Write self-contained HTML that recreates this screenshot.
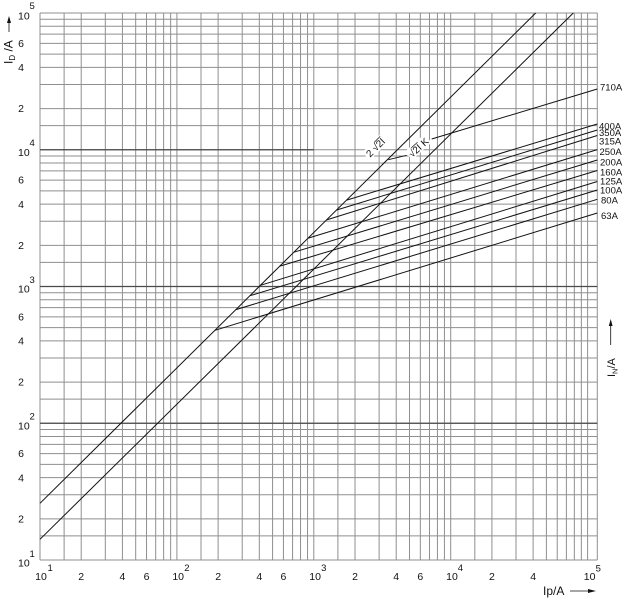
<!DOCTYPE html>
<html><head><meta charset="utf-8"><style>
html,body{margin:0;padding:0;background:#fff;}
svg{display:block;font-family:"Liberation Sans",sans-serif;}
</style></head><body>
<svg width="637" height="600" viewBox="0 0 637 600" xmlns="http://www.w3.org/2000/svg">
<rect width="637" height="600" fill="#fff"/>
<!-- vertical grid -->
<path fill="none" stroke="#8f8f8f" stroke-width="1" d="
M40 13V560 M64.11 13V560 M81.21 13V560 M105.32 13V560 M122.42 13V560 M135.69 13V560 M146.53 13V560 M155.69 13V560 M163.63 13V560 M170.64 13V560
M176.9 13V560 M201.01 13V560 M218.11 13V560 M242.22 13V560 M259.32 13V560 M272.59 13V560 M283.43 13V560 M292.59 13V560 M300.53 13V560 M307.54 13V560
M313.8 13V560 M337.91 13V560 M355.01 13V560 M379.12 13V560 M396.22 13V560 M409.49 13V560 M420.33 13V560 M429.49 13V560 M437.43 13V560 M444.44 13V560
M450.7 13V560 M474.81 13V560 M491.91 13V560 M516.02 13V560 M533.12 13V560 M546.39 13V560 M557.23 13V560 M566.39 13V560 M574.33 13V560 M581.34 13V560
M587.6 13V560 M597.3 13V560"/>
<!-- horizontal grid -->
<path fill="none" stroke="#8f8f8f" stroke-width="1" d="
M40 560H597.3 M40 535.92H597.3 M40 518.83H597.3 M40 494.75H597.3 M40 477.67H597.3 M40 464.42H597.3 M40 453.59H597.3 M40 444.43H597.3 M40 436.5H597.3 M40 429.51H597.3
M40 423.25H597.3 M40 399.17H597.3 M40 382.08H597.3 M40 358H597.3 M40 340.92H597.3 M40 327.67H597.3 M40 316.84H597.3 M40 307.68H597.3 M40 299.75H597.3 M40 292.76H597.3
M40 286.5H597.3 M40 262.42H597.3 M40 245.33H597.3 M40 221.25H597.3 M40 204.17H597.3 M40 190.92H597.3 M40 180.09H597.3 M40 170.93H597.3 M40 163H597.3 M40 156.01H597.3
M40 149.75H597.3 M40 125.67H597.3 M40 108.58H597.3 M40 84.5H597.3 M40 67.42H597.3 M40 54.17H597.3 M40 43.34H597.3 M40 34.18H597.3 M40 26.25H597.3 M40 19.26H597.3
M40 13H597.3"/>
<!-- darker decade lines -->
<path fill="none" stroke="#4a4a4a" stroke-width="1.2" d="M40 286.5H597.3 M40 423.25H597.3 M40 149.75H313.8"/>

<!-- label background boxes -->
<g transform="translate(375.5,147.5) rotate(-45)"><rect x="-13" y="-6" width="26" height="11" fill="#fff"/></g>
<g transform="translate(418.5,147.5) rotate(-42)"><rect x="-13" y="-6" width="26" height="11" fill="#fff"/></g>

<!-- diagonals -->
<g fill="none" stroke="#111" stroke-width="1">
<path d="M40 503.3L535.7 13"/>
<path d="M40 539.3L573.3 13"/>
<!-- fuse lines -->
<path d="M215 330.3L597.3 213"/>
<path d="M236 309.6L597.3 199.3"/>
<path d="M250 295.7L597.3 190"/>
<path d="M260.5 285.3L597.3 181.5"/>
<path d="M280 266.1L597.3 170.5"/>
<path d="M294 252.2L597.3 160"/>
<path d="M308.3 238.1L597.3 149.6"/>
<path d="M326.7 219.9L597.3 135.5"/>
<path d="M336.7 210L597.3 130"/>
<path d="M346.7 200.1L597.3 124"/>
<path d="M431.7 139L597.3 89"/>
<path d="M388.3 159.7L406.7 155.3"/>
</g>

<!-- diagonal labels -->
<g transform="translate(375.5,147.5) rotate(-45)" font-size="10" fill="#111">
<text x="0" y="3.5" text-anchor="middle">2 √2I</text>
<line x1="2.7" y1="-4.6" x2="11.2" y2="-4.6" stroke="#111" stroke-width="0.7"/>
</g>
<g transform="translate(418.5,147.5) rotate(-42)" font-size="10" fill="#111">
<text x="0" y="3.5" text-anchor="middle">√2I K</text>
<line x1="-5.6" y1="-4.6" x2="2.8" y2="-4.6" stroke="#111" stroke-width="0.7"/>
</g>

<!-- right labels -->
<g font-size="9.5" fill="#111">
<text x="600" y="90.4">710A</text>
<text x="599" y="129.7">400A</text>
<text x="599" y="136.1">350A</text>
<text x="599" y="144.4">315A</text>
<text x="599.5" y="155.1">250A</text>
<text x="600" y="165.7">200A</text>
<text x="600" y="175.7">160A</text>
<text x="600" y="184.7">125A</text>
<text x="600" y="193.7">100A</text>
<text x="601" y="203.7">80A</text>
<text x="601" y="219.1">63A</text>
</g>

<!-- left tick labels -->
<g font-size="10.5" fill="#111">
<text x="18" y="19.3">10</text><text x="29.5" y="9" font-size="9.5">5</text>
<text x="21" y="47" text-anchor="middle">6</text>
<text x="21" y="71" text-anchor="middle">4</text>
<text x="21" y="112.2" text-anchor="middle">2</text>
<text x="18" y="155.75">10</text><text x="29.5" y="146.2" font-size="9.5">4</text>
<text x="21" y="183.7" text-anchor="middle">6</text>
<text x="21" y="207.8" text-anchor="middle">4</text>
<text x="21" y="249" text-anchor="middle">2</text>
<text x="18" y="292.5">10</text><text x="29.5" y="283" font-size="9.5">3</text>
<text x="21" y="320.4" text-anchor="middle">6</text>
<text x="21" y="344.5" text-anchor="middle">4</text>
<text x="21" y="385.7" text-anchor="middle">2</text>
<text x="18" y="429.25">10</text><text x="29.5" y="419.7" font-size="9.5">2</text>
<text x="21" y="457.2" text-anchor="middle">6</text>
<text x="21" y="481.3" text-anchor="middle">4</text>
<text x="21" y="522.4" text-anchor="middle">2</text>
<text x="18" y="566.5">10</text><text x="29.5" y="557" font-size="9.5">1</text>
</g>

<!-- bottom tick labels -->
<g font-size="10.5" fill="#111">
<text x="41" y="580" text-anchor="middle">10</text><text x="47.5" y="571" font-size="9.5">1</text>
<text x="81.21" y="580" text-anchor="middle">2</text>
<text x="122.42" y="580" text-anchor="middle">4</text>
<text x="146.53" y="580" text-anchor="middle">6</text>
<text x="178.2" y="580" text-anchor="middle">10</text><text x="184.2" y="571" font-size="9.5">2</text>
<text x="218.11" y="580" text-anchor="middle">2</text>
<text x="259.32" y="580" text-anchor="middle">4</text>
<text x="283.43" y="580" text-anchor="middle">6</text>
<text x="315.1" y="580" text-anchor="middle">10</text><text x="321.1" y="571" font-size="9.5">3</text>
<text x="355.01" y="580" text-anchor="middle">2</text>
<text x="396.22" y="580" text-anchor="middle">4</text>
<text x="420.33" y="580" text-anchor="middle">6</text>
<text x="452" y="580" text-anchor="middle">10</text><text x="457.8" y="571" font-size="9.5">4</text>
<text x="491.91" y="580" text-anchor="middle">2</text>
<text x="533.12" y="580" text-anchor="middle">4</text>
<text x="589.6" y="580" text-anchor="middle">10</text><text x="595.6" y="571.5" font-size="9.5">5</text>
</g>

<!-- bottom axis title -->
<text x="543" y="595" font-size="12" fill="#111">Ip/A</text>
<line x1="570" y1="591" x2="590" y2="591" stroke="#111" stroke-width="0.8"/>
<polygon points="588,589 596,591 588,593" fill="#111"/>

<!-- left axis title -->
<text transform="translate(12.5,64) rotate(-90)" font-size="12" fill="#111">I<tspan font-size="8" dy="2.5">D</tspan><tspan dy="-2.5"> /A</tspan></text>
<line x1="9" y1="32" x2="9" y2="21" stroke="#111" stroke-width="0.8"/>
<polygon points="7,23 9,16 11,23" fill="#111"/>

<!-- right axis title -->
<text transform="translate(615,377) rotate(-90)" font-size="11" fill="#111">I<tspan font-size="7.5" dy="2.5">N</tspan><tspan dy="-2.5">/A</tspan></text>
<line x1="610.7" y1="345" x2="610.7" y2="325" stroke="#111" stroke-width="0.8"/>
<polygon points="608.8,326 610.7,319 612.6,326" fill="#111"/>
</svg>
</body></html>
